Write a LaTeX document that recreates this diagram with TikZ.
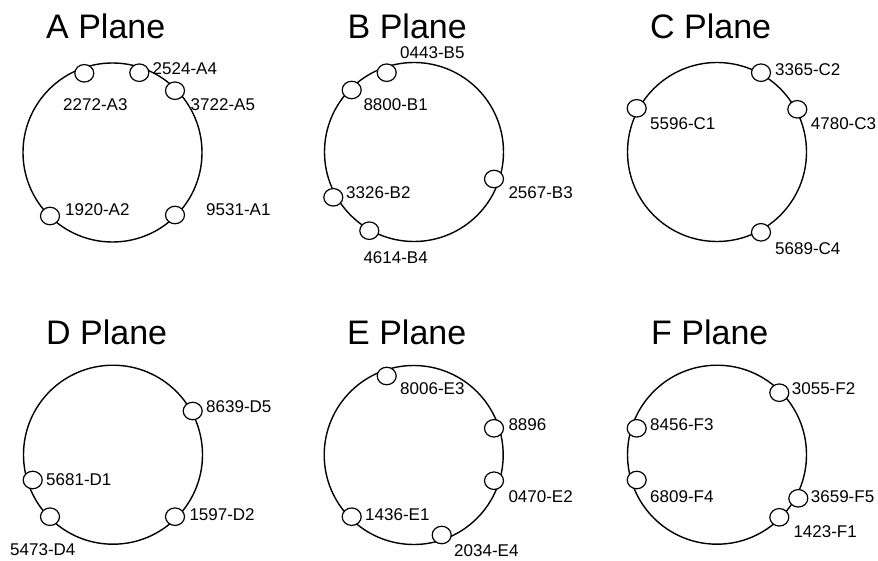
\documentclass[tikz,border=0pt]{standalone}
\usepackage{fontspec}
\setmainfont{Liberation Sans}
\usetikzlibrary{shapes.geometric}
\begin{document}
\begin{tikzpicture}[x=1pt,y=-1pt,
  ring/.style={draw=black,line width=1.4pt,circle,minimum size=179pt,inner sep=0pt},
  port/.style={draw=black,line width=1.2pt,fill=white,ellipse,minimum width=19pt,minimum height=17.5pt,inner sep=0pt},
  lbl/.style={anchor=west,inner sep=0pt,font=\fontsize{17}{19}\selectfont},
  ttl/.style={anchor=west,inner sep=0pt,font=\fontsize{34}{37}\selectfont}]
\useasboundingbox (0,0) rectangle (878,561);
% ---------- A ----------
\node[ttl] (tA) at (46,26) {A Plane};
\node[ring] (rA) at (112.5,152.5) {};
\node[port] (a3) at (84.3,73.3) {};
\node[port] (a4) at (139.3,72.7) {};
\node[port] (a5) at (175,90.7) {};
\node[port] (a2) at (50,216) {};
\node[port] (a1) at (175,215) {};
\node[lbl] (la4) at (152.5,68.3) {2524-A4};
\node[lbl] (la3) at (63,105) {2272-A3};
\node[lbl] (la5) at (190.5,104.3) {3722-A5};
\node[lbl] (la2) at (65,210) {1920-A2};
\node[lbl] (la1) at (206,210) {9531-A1};
% ---------- B ----------
\node[ttl] (tB) at (347.5,26) {B Plane};
\node[ring] (rB) at (414,152) {};
\node[port] (b5) at (386.7,72.7) {};
\node[port] (b1) at (351.7,90) {};
\node[port] (b2) at (333.3,197.3) {};
\node[port] (b4) at (369.3,230.7) {};
\node[port] (b3) at (494,179) {};
\node[lbl] (lb5) at (400,52.5) {0443-B5};
\node[lbl] (lb1) at (363.3,105) {8800-B1};
\node[lbl] (lb2) at (346,192.3) {3326-B2};
\node[lbl] (lb3) at (508.3,192.3) {2567-B3};
\node[lbl] (lb4) at (363.3,257.3) {4614-B4};
% ---------- C ----------
\node[ttl] (tC) at (650,26) {C Plane};
\node[ring] (rC) at (717,152) {};
\node[port] (c2) at (761,72.7) {};
\node[port] (c1) at (636.7,108.3) {};
\node[port] (c3) at (797.3,109.3) {};
\node[port] (c4) at (761,232.3) {};
\node[lbl] (lc2) at (775,69.3) {3365-C2};
\node[lbl] (lc1) at (650,123.3) {5596-C1};
\node[lbl] (lc3) at (810.7,123.3) {4780-C3};
\node[lbl] (lc4) at (775,248.3) {5689-C4};
% ---------- D ----------
\node[ttl] (tD) at (46,332.5) {D Plane};
\node[ring] (rD) at (113,454.7) {};
\node[port] (d5) at (192.7,411) {};
\node[port] (d1) at (32.7,480) {};
\node[port] (d4) at (50,516.7) {};
\node[port] (d2) at (175,516.7) {};
\node[lbl] (ld5) at (206,406.7) {8639-D5};
\node[lbl] (ld1) at (46,479.3) {5681-D1};
\node[lbl] (ld2) at (189.3,514.3) {1597-D2};
\node[lbl] (ld4) at (10,550) {5473-D4};
% ---------- E ----------
\node[ttl] (tE) at (347,332.5) {E Plane};
\node[ring] (rE) at (413.7,455) {};
\node[port] (e3) at (386.7,376) {};
\node[port] (e5) at (494,428.3) {};
\node[port] (e2) at (494,480.7) {};
\node[port] (e1) at (351.7,516.7) {};
\node[port] (e4) at (441.7,535) {};
\node[lbl] (le3) at (400,388.3) {8006-E3};
\node[lbl] (le5) at (508.3,425) {8896};
\node[lbl] (le2) at (508.3,496.7) {0470-E2};
\node[lbl] (le1) at (365,515) {1436-E1};
\node[lbl] (le4) at (454,550.7) {2034-E4};
% ---------- F ----------
\node[ttl] (tF) at (651,332.5) {F Plane};
\node[ring] (rF) at (717,454.7) {};
\node[port] (f2) at (779.3,392.7) {};
\node[port] (f3) at (636.7,428.3) {};
\node[port] (f4) at (636.7,480) {};
\node[port] (f5) at (798.3,498.3) {};
\node[port] (f1) at (779.3,517.3) {};
\node[lbl] (lf2) at (791.7,388.3) {3055-F2};
\node[lbl] (lf3) at (650,425) {8456-F3};
\node[lbl] (lf4) at (650,496.7) {6809-F4};
\node[lbl] (lf5) at (810.7,496.7) {3659-F5};
\node[lbl] (lf1) at (793.3,531.7) {1423-F1};
\end{tikzpicture}
\end{document}
